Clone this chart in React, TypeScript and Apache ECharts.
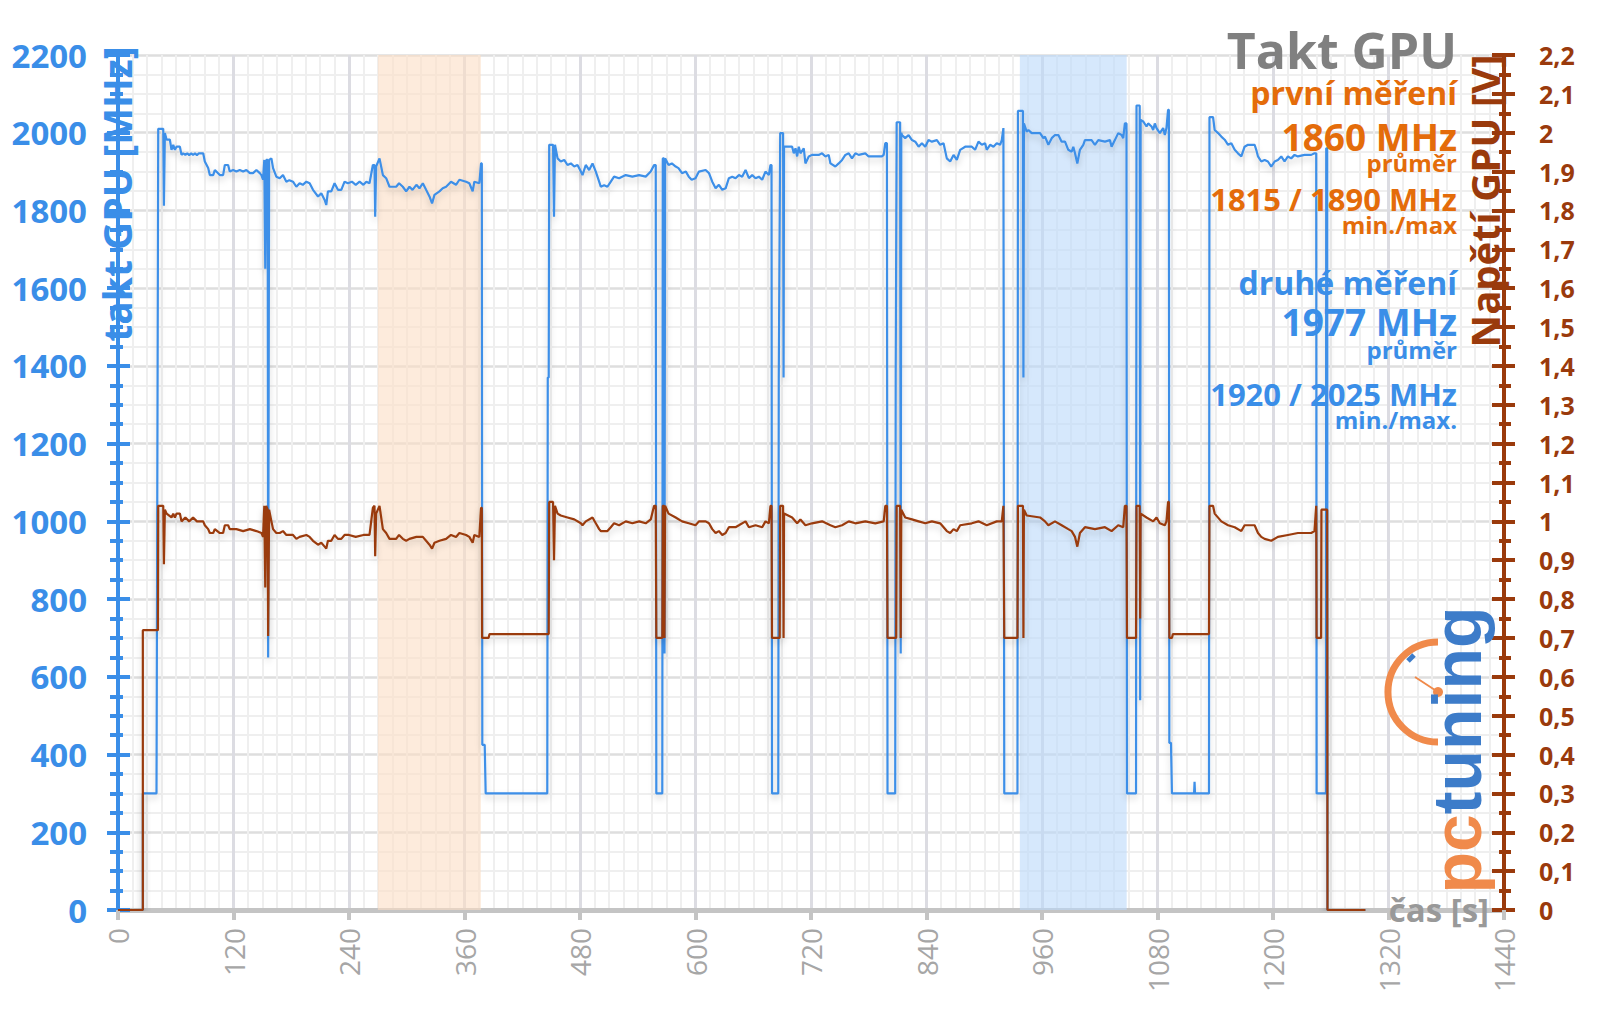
import React, { useEffect, useRef } from "react";
import * as echarts from "echarts";

// time [s], GPU clock [MHz]
const clockPoints: [number, number][] = [
  [0, 0], [25.8, 0], [25.8, 300], [40, 300], [41.8, 2010], [47, 2010], [47.7, 1812], [48.7, 1999], [50.5, 1982], [53.9, 1982],
  [55.6, 1956], [57.4, 1969], [59.1, 1956], [60.8, 1964], [64.3, 1964], [66, 1943], [67.7, 1947], [70, 1943], [72, 1947], [74, 1942],
  [76, 1947], [78, 1943], [80, 1947], [82, 1942], [84, 1947], [88.5, 1947], [90.2, 1926], [93.7, 1909], [95.4, 1891], [98.9, 1891],
  [100.6, 1904], [105.8, 1891], [109.2, 1891], [111, 1917], [114.4, 1917], [116.1, 1900], [119.6, 1904], [123, 1900], [126.5, 1904], [130, 1900],
  [133.4, 1904], [137, 1896], [140.3, 1896], [143.8, 1904], [147.3, 1896], [149, 1891], [150.7, 1879], [152, 1930], [153, 1650], [154, 1930],
  [155.5, 1930], [156, 650], [157, 1930], [159.4, 1934], [161.1, 1909], [164.5, 1887], [168, 1883], [171.4, 1891], [174.9, 1874], [178, 1878],
  [181.8, 1874], [185.3, 1861], [188.7, 1870], [192, 1866], [195.7, 1874], [199.1, 1870], [202.6, 1853], [207.8, 1836], [211.2, 1844], [214.7, 1827],
  [216.4, 1814], [218.1, 1849], [221.6, 1849], [225, 1870], [228.5, 1853], [232, 1853], [235.4, 1874], [238.9, 1870], [243, 1874], [247, 1866],
  [251, 1874], [255, 1866], [258, 1874], [261.3, 1870], [264.8, 1917], [266.5, 1917], [267.2, 1784], [268.2, 1913], [271.7, 1934], [275.2, 1891],
  [278.6, 1883], [282.1, 1861], [289, 1861], [292, 1870], [295.9, 1861], [299.4, 1849], [302.8, 1861], [306, 1853], [310, 1866], [313.2, 1857],
  [316.7, 1870], [320.1, 1853], [323.6, 1836], [326.3, 1818], [328.8, 1840], [334, 1849], [337.4, 1857], [340.9, 1861], [346, 1874], [351.2, 1866],
  [354.7, 1879], [361.6, 1874], [365, 1870], [368.5, 1849], [370.2, 1874], [375.4, 1870], [377.2, 1921], [378, 1921], [378.5, 425], [381, 425],
  [382, 300], [446, 300], [446.5, 1370], [447.5, 1370], [448, 1969], [452, 1969], [453, 1784], [454, 1969], [456.7, 1934], [460, 1926],
  [463.6, 1930], [467, 1917], [470.5, 1921], [474, 1913], [477.4, 1917], [480.9, 1900], [482.6, 1891], [486, 1917], [489.5, 1904], [493, 1921],
  [496.4, 1900], [499.9, 1874], [501.6, 1861], [505.1, 1865], [508.5, 1861], [512, 1874], [515.4, 1887], [520.6, 1883], [527.5, 1891], [534.4, 1887],
  [541.4, 1891], [548.3, 1887], [553.5, 1900], [557, 1917], [558.7, 1917], [559.3, 300], [565.5, 300], [566, 1934], [567.3, 1934], [567.8, 660],
  [568.4, 1934], [572, 1917], [575.4, 1921], [579.4, 1913], [582.3, 1909], [586, 1896], [590, 1900], [593, 1887], [596, 1879], [600, 1883],
  [603.6, 1900], [610.5, 1904], [614, 1896], [617.4, 1874], [620.9, 1857], [624.3, 1866], [627.8, 1853], [631.3, 1857], [634.7, 1883], [638.2, 1887],
  [641.6, 1883], [645.1, 1891], [648.5, 1887], [652, 1904], [655.5, 1883], [658.9, 1891], [662.4, 1883], [665.8, 1887], [669.3, 1879], [672.7, 1900],
  [676.2, 1891], [677.9, 1917], [679, 1917], [679.5, 300], [686, 300], [686.5, 1370], [687.2, 1370], [688, 1999], [691, 1999], [691.5, 1370],
  [692, 1964], [696.9, 1964], [700.4, 1964], [702.1, 1947], [703.9, 1960], [705.6, 1939], [707.3, 1964], [709, 1947], [712.5, 1960], [714.2, 1921],
  [717.7, 1939], [721.1, 1943], [728, 1943], [731.5, 1947], [735, 1939], [738.4, 1943], [740.2, 1921], [745.3, 1913], [748.8, 1921], [752.3, 1930],
  [755.7, 1943], [759.2, 1947], [762.6, 1934], [766.1, 1947], [769.5, 1943], [776.4, 1947], [779.9, 1939], [786.8, 1939], [793.7, 1939], [795.5, 1943],
  [797.2, 1973], [798.9, 1973], [799.5, 300], [807.5, 300], [808, 1370], [808.6, 1370], [809, 2027], [812.6, 2027], [813.2, 660], [813.8, 2000],
  [814.5, 1994], [817.9, 1986], [821.4, 1994], [824.9, 1981], [828.3, 1977], [831.8, 1964], [835.2, 1973], [838.7, 1964], [842.1, 1981], [845.6, 1977],
  [850.8, 1981], [854.2, 1969], [857.7, 1973], [861.1, 1934], [864.6, 1926], [868.1, 1943], [871.5, 1930], [875, 1956], [880.2, 1964], [887.1, 1964],
  [890.5, 1956], [894, 1977], [897.5, 1969], [900.9, 1973], [902.6, 1956], [906.1, 1969], [909.6, 1964], [913, 1973], [916.5, 1969], [918.2, 1981],
  [919.9, 2012], [920.3, 2012], [920.8, 300], [934.5, 300], [935, 2056], [940.2, 2056], [940.7, 1370], [941.2, 2024], [944.1, 2003], [945.9, 2007],
  [949.3, 1999], [958, 1999], [961.4, 1986], [963.1, 1990], [966.6, 1969], [970.1, 1986], [973.5, 1994], [977, 1994], [980.4, 1977], [983.9, 1977],
  [987.3, 1956], [990.8, 1951], [992.5, 1964], [994.3, 1947], [996.7, 1921], [999.4, 1956], [1002.9, 1969], [1004.6, 1981], [1011.5, 1981], [1015, 1969],
  [1018.5, 1981], [1025.4, 1977], [1030.6, 1981], [1032.3, 1964], [1035.7, 1981], [1039.2, 1999], [1042.7, 1994], [1044.4, 1986], [1046.1, 2024], [1047.8, 2024],
  [1048.3, 300], [1057.7, 300], [1058.2, 2070], [1061.5, 2070], [1062, 540], [1062.5, 2033], [1065.1, 2029], [1068.6, 2016], [1070.3, 2024], [1073.8, 2016],
  [1075.5, 2007], [1077.2, 2024], [1079, 2012], [1082.4, 1999], [1085.9, 2012], [1087.6, 1994], [1089.3, 2012], [1091, 2059], [1091.8, 2059], [1092.3, 430],
  [1094, 430], [1095, 300], [1118, 300], [1118.5, 330], [1119, 300], [1133.5, 300], [1134, 2040], [1137.7, 2040], [1139.4, 2007], [1142.9, 1999],
  [1146.3, 1990], [1149.8, 1982], [1153.3, 1969], [1156.7, 1973], [1160.2, 1956], [1163.6, 1947], [1167.1, 1939], [1170.5, 1964], [1174, 1969], [1180.9, 1969],
  [1182.6, 1956], [1184.4, 1939], [1187.8, 1926], [1191.3, 1930], [1194.7, 1926], [1198.2, 1913], [1201.7, 1926], [1205.1, 1930], [1208.6, 1939], [1212, 1926],
  [1215.5, 1939], [1218.9, 1934], [1222.4, 1943], [1225.9, 1939], [1232.8, 1943], [1239.7, 1943], [1243.1, 1947], [1244.9, 1947], [1245.3, 300], [1255, 300],
  [1255.3, 1960], [1256.3, 1960], [1256.6, 0], [1296, 0],
];

// time [s], GPU voltage [V]
const voltPoints: [number, number][] = [
  [0, 0], [25.8, 0], [25.8, 0.72], [41.5, 0.72], [41.8, 1.04], [47, 1.04], [47.7, 0.89], [48.7, 1.03], [50.5, 1.02], [55.6, 1.01],
  [57.4, 1.02], [59.1, 1.01], [60.8, 1.02], [64.3, 1.02], [66, 1.0], [70, 1.01], [74, 1.0], [78, 1.01], [82, 1.0], [88.5, 1.0],
  [90.2, 0.99], [93.7, 0.98], [95.4, 0.97], [98.9, 0.97], [100.6, 0.98], [105.8, 0.97], [109.2, 0.97], [111, 0.99], [114.4, 0.99], [116.1, 0.98],
  [123, 0.98], [130, 0.975], [137, 0.98], [143.8, 0.975], [149, 0.97], [150.7, 0.96], [152, 1.04], [153, 0.83], [154, 1.04], [155.5, 1.03],
  [156, 0.705], [157, 1.03], [159.4, 1.0], [161.1, 0.98], [164.5, 0.97], [168, 0.97], [171.4, 0.975], [174.9, 0.965], [181.8, 0.965], [185.3, 0.955],
  [188.7, 0.96], [195.7, 0.965], [199.1, 0.96], [202.6, 0.95], [207.8, 0.94], [211.2, 0.945], [214.7, 0.935], [216.4, 0.93], [218.1, 0.95], [221.6, 0.95],
  [225, 0.965], [228.5, 0.955], [232, 0.955], [235.4, 0.965], [240, 0.965], [247, 0.96], [255, 0.965], [261.3, 0.965], [264.8, 1.035], [266.5, 1.04],
  [267.2, 0.91], [268.2, 1.02], [271.7, 1.04], [275.2, 0.98], [278.6, 0.97], [282.1, 0.955], [289, 0.955], [292, 0.965], [295.9, 0.955], [299.4, 0.95],
  [302.8, 0.955], [310, 0.96], [316.7, 0.96], [320.1, 0.95], [323.6, 0.94], [326.3, 0.93], [328.8, 0.945], [334, 0.95], [340.9, 0.955], [346, 0.965],
  [351.2, 0.96], [354.7, 0.97], [361.6, 0.965], [365, 0.96], [368.5, 0.945], [370.2, 0.965], [375.4, 0.96], [377.2, 1.035], [378, 1.035], [378.3, 0.7],
  [385, 0.7], [386, 0.71], [447.5, 0.71], [448, 1.05], [452, 1.05], [453, 0.9], [454, 1.04], [456.7, 1.02], [460, 1.015], [467, 1.01],
  [474, 1.005], [480.9, 0.995], [482.6, 0.99], [486, 1.0], [493, 1.01], [496.4, 0.995], [499.9, 0.98], [501.6, 0.975], [508.5, 0.975], [512, 0.985],
  [515.4, 0.995], [520.6, 0.99], [527.5, 1.0], [534.4, 0.995], [541.4, 1.0], [548.3, 0.995], [553.5, 1.005], [557, 1.04], [558.7, 1.04], [559.3, 0.7],
  [565.5, 0.7], [566, 1.04], [567.3, 1.04], [567.8, 0.7], [568.4, 1.04], [572, 1.02], [579.4, 1.01], [586, 1.0], [593, 0.995], [600, 0.99],
  [603.6, 1.0], [610.5, 1.0], [614, 0.995], [617.4, 0.98], [620.9, 0.97], [624.3, 0.975], [627.8, 0.965], [631.3, 0.97], [634.7, 0.985], [641.6, 0.985],
  [645.1, 0.99], [652, 1.0], [655.5, 0.985], [662.4, 0.99], [669.3, 0.985], [672.7, 1.0], [676.2, 0.995], [677.9, 1.04], [679, 1.04], [679.5, 0.7],
  [687.5, 0.7], [688, 1.04], [691, 1.04], [691.5, 0.7], [692, 1.02], [700.4, 1.01], [705.6, 0.995], [709, 1.005], [714.2, 0.99], [721.1, 0.995],
  [731.5, 1.0], [740.2, 0.99], [745.3, 0.985], [752.3, 0.99], [759.2, 1.0], [766.1, 0.995], [776.4, 1.0], [786.8, 0.995], [795.5, 1.0], [797.2, 1.04],
  [798.9, 1.04], [799.5, 0.7], [808.5, 0.7], [809, 1.04], [812.6, 1.04], [813.2, 0.7], [813.8, 1.03], [817.9, 1.01], [824.9, 1.005], [831.8, 1.0],
  [838.7, 0.995], [845.6, 1.0], [854.2, 0.995], [861.1, 0.975], [864.6, 0.97], [868.1, 0.98], [871.5, 0.975], [875, 0.99], [887.1, 0.995], [894, 1.0],
  [902.6, 0.99], [913, 1.0], [918.2, 1.0], [919.9, 1.04], [920.3, 1.04], [920.8, 0.7], [934.5, 0.7], [935, 1.04], [940.2, 1.04], [940.7, 0.7],
  [941.2, 1.03], [944.1, 1.015], [958, 1.01], [963.1, 1.0], [966.6, 0.99], [973.5, 1.0], [980.4, 0.99], [987.3, 0.98], [990.8, 0.975], [994.3, 0.96],
  [996.7, 0.935], [999.4, 0.97], [1004.6, 0.985], [1015, 0.98], [1025.4, 0.985], [1032.3, 0.975], [1039.2, 0.99], [1044.4, 0.985], [1046.1, 1.04], [1047.8, 1.04],
  [1048.3, 0.7], [1057.7, 0.7], [1058.2, 1.04], [1061.5, 1.04], [1062, 0.75], [1062.5, 1.02], [1068.6, 1.01], [1075.5, 1.0], [1079, 1.01], [1082.4, 0.995],
  [1087.6, 0.99], [1089.3, 1.0], [1091, 1.05], [1091.8, 1.05], [1092.3, 0.7], [1095, 0.7], [1096, 0.71], [1133.5, 0.71], [1134, 1.04], [1137.7, 1.04],
  [1139.4, 1.02], [1146.3, 1.0], [1153.3, 0.99], [1160.2, 0.985], [1167.1, 0.975], [1170.5, 0.99], [1180.9, 0.99], [1184.4, 0.97], [1187.8, 0.96], [1191.3, 0.955],
  [1198.2, 0.95], [1205.1, 0.96], [1215.5, 0.965], [1225.9, 0.97], [1239.7, 0.97], [1243.1, 0.975], [1244.9, 1.04], [1245.3, 0.7], [1250, 0.7], [1250.3, 1.03],
  [1256.3, 1.03], [1256.6, 0], [1296, 0],
];

const firstRunBand: [number, number] = [270, 377];
const secondRunBand: [number, number] = [937, 1048];

const titleText = "Takt GPU";
const firstLabel = ["první měření", "1860 MHz", "průměr", "1815 / 1890 MHz", "min./max"];
const secondLabel = ["druhé měření", "1977 MHz", "průměr", "1920 / 2025 MHz", "min./max."];
const leftAxisName = "takt GPU [MHz]";
const rightAxisName = "Napětí GPU [V]";
const xAxisName = "čas [s]";

const BLUE = "#3a8ee8";
const LINE_BLUE = "#3d8fe8";
const BROWN = "#9a3a0c";
const ORANGE = "#e46c0a";
const GRAY = "#808080";
const FONT = '"Open Sans", "DejaVu Sans", sans-serif';

export default function App() {
  const ref = useRef<HTMLDivElement>(null);
  useEffect(() => {
    if (!ref.current) return;
    const chart = echarts.init(ref.current, undefined, { renderer: "svg" });

    const txt = (text: string, y: number, size: number, color: string) => ({
      type: "text",
      x: 1457,
      y,
      z: 100,
      style: {
        text,
        fill: color,
        font: `bold ${size}px ${FONT}`,
        lineHeight: Math.round(size * 0.8),
        align: "right",
        verticalAlign: "middle",
      },
    });

    const sizes = [32, 37, 24, 31, 24];
    const ysFirst = [92, 136, 162, 199, 224];
    const ysSecond = [282, 321, 349, 394, 419];

    const graphic: any[] = [
      txt(titleText, 50, 50, GRAY),
      ...firstLabel.map((t, i) => txt(t, ysFirst[i], sizes[i], ORANGE)),
      ...secondLabel.map((t, i) => txt(t, ysSecond[i], sizes[i], BLUE)),
      {
        type: "text",
        x: 116,
        y: 194,
        rotation: Math.PI / 2,
        z: 100,
        style: { text: leftAxisName, fill: BLUE, font: `bold 39px ${FONT}`, align: "center", verticalAlign: "middle" },
      },
      {
        type: "text",
        x: 1484,
        y: 201,
        rotation: Math.PI / 2,
        z: 100,
        style: { text: rightAxisName, fill: BROWN, font: `bold 40px ${FONT}`, align: "center", verticalAlign: "middle" },
      },
      {
        type: "text",
        x: 1489,
        y: 909,
        z: 100,
        style: { text: xAxisName, fill: "#999999", font: `bold 33px ${FONT}`, align: "right", verticalAlign: "middle" },
      },
      // logo
      {
        type: "arc",
        z: 90,
        shape: { cx: 1438, cy: 692, r: 50, startAngle: Math.PI * 0.5, endAngle: Math.PI * 1.5, clockwise: true },
        style: { stroke: "#f08a4b", lineWidth: 7, fill: null },
      },
      {
        type: "line",
        z: 90,
        shape: { x1: 1438, y1: 692, x2: 1415, y2: 677 },
        style: { stroke: "#f08a4b", lineWidth: 2 },
      },
      { type: "circle", z: 90, shape: { cx: 1438, cy: 692, r: 5 }, style: { fill: "#f08a4b" } },
      {
        type: "line",
        z: 91,
        shape: { x1: 1408, y1: 661, x2: 1414, y2: 655 },
        style: { stroke: "#3d7cc9", lineWidth: 5 },
      },
      {
        type: "text",
        x: 1457,
        y: 750,
        rotation: Math.PI / 2,
        z: 90,
        style: {
          text: "{a|pc}{b|tuning}",
          align: "center",
          verticalAlign: "middle",
          rich: {
            a: { fill: "#f08a4b", fontSize: 68, fontWeight: "bold", fontFamily: '"Liberation Sans", sans-serif' },
            b: { fill: "#3d7cc9", fontSize: 68, fontWeight: "bold", fontFamily: '"Liberation Sans", sans-serif' },
          },
        },
      },
    ];

    const commonY0 = { type: "value", min: 0, max: 2200, interval: 200, position: "left", offset: 0 };
    const commonY1 = { type: "value", min: 0, max: 2.2, interval: 0.1, position: "right", offset: 0 };

    const option: any = {
      animation: false,
      backgroundColor: "#ffffff",
      grid: { left: 118, right: 96, top: 55, bottom: 99 },
      xAxis: {
        type: "value",
        min: 0,
        max: 1440,
        interval: 120,
        axisLine: { show: true, lineStyle: { color: "#c4c4c4", width: 5 } },
        axisTick: { show: true, length: 10, lineStyle: { color: "#c4c4c4", width: 4 } },
        minorTick: { show: false, splitNumber: 8 },
        axisLabel: {
          rotate: 90,
          color: "#a6a6a6",
          fontSize: 28,
          fontFamily: FONT,
          margin: 18,
          formatter: (v: number) => String(v),
        },
        splitLine: { show: true, lineStyle: { color: "#dcdce2", width: 3 } },
        minorSplitLine: { show: true, lineStyle: { color: "#efefef", width: 2 } },
      },
      yAxis: [
        {
          ...commonY0,
          axisLine: { show: true, lineStyle: { color: BLUE, width: 4 } },
          axisTick: { show: true, length: 11, lineStyle: { color: BLUE, width: 4 } },
          minorTick: { show: true, splitNumber: 4, length: 8, lineStyle: { color: BLUE, width: 4 } },
          axisLabel: {
            color: BLUE,
            fontSize: 33,
            fontWeight: "bold",
            fontFamily: FONT,
            margin: 31,
            formatter: (v: number) => String(v),
          },
          splitLine: { show: true, lineStyle: { color: "#dedede", width: 2.5 } },
          minorSplitLine: { show: true, lineStyle: { color: "#efefef", width: 2 } },
        },
        {
          ...commonY1,
          axisLine: { show: true, lineStyle: { color: BROWN, width: 4 } },
          axisTick: { show: true, length: 11, lineStyle: { color: BROWN, width: 4 } },
          minorTick: { show: true, splitNumber: 2, length: 7, lineStyle: { color: BROWN, width: 4 } },
          axisLabel: {
            color: BROWN,
            fontSize: 25,
            fontWeight: "bold",
            fontFamily: FONT,
            margin: 35,
            formatter: (v: number) => String(Math.round(v * 10) / 10).replace(".", ","),
          },
          splitLine: { show: false },
        },
        {
          ...commonY0,
          axisLine: { show: false },
          axisTick: { show: true, inside: true, length: 12, lineStyle: { color: BLUE, width: 4 } },
          minorTick: { show: true, splitNumber: 4, length: 5, lineStyle: { color: BLUE, width: 4 } },
          axisLabel: { show: false },
          splitLine: { show: false },
        },
        {
          ...commonY1,
          axisLine: { show: false },
          axisTick: { show: true, inside: true, length: 12, lineStyle: { color: BROWN, width: 4 } },
          minorTick: { show: true, splitNumber: 2, length: 5, lineStyle: { color: BROWN, width: 4 } },
          axisLabel: { show: false },
          splitLine: { show: false },
        },
      ],
      series: [
        {
          type: "line",
          name: "bands",
          data: [],
          z: 1,
          silent: true,
          markArea: {
            silent: true,
            data: [
              [{ xAxis: firstRunBand[0], itemStyle: { color: "rgba(252,222,196,0.6)" } }, { xAxis: firstRunBand[1] }],
              [{ xAxis: secondRunBand[0], itemStyle: { color: "rgba(186,216,250,0.6)" } }, { xAxis: secondRunBand[1] }],
            ],
          },
        },
        {
          type: "line",
          name: "takt",
          yAxisIndex: 0,
          data: clockPoints,
          showSymbol: false,
          symbol: "none",
          z: 3,
          lineStyle: { color: LINE_BLUE, width: 2.2, shadowColor: "rgba(0,0,0,0.18)", shadowBlur: 6, shadowOffsetY: 4 },
        },
        {
          type: "line",
          name: "napeti",
          yAxisIndex: 1,
          data: voltPoints,
          showSymbol: false,
          symbol: "none",
          z: 4,
          lineStyle: { color: BROWN, width: 2.2, shadowColor: "rgba(0,0,0,0.18)", shadowBlur: 6, shadowOffsetY: 4 },
        },
      ],
      graphic,
    };
    chart.setOption(option);
    return () => chart.dispose();
  }, []);

  return (
    <div
      ref={ref}
      style={{ position: "fixed", left: 0, top: 0, width: 1600, height: 1009, background: "#fff" }}
    />
  );
}
